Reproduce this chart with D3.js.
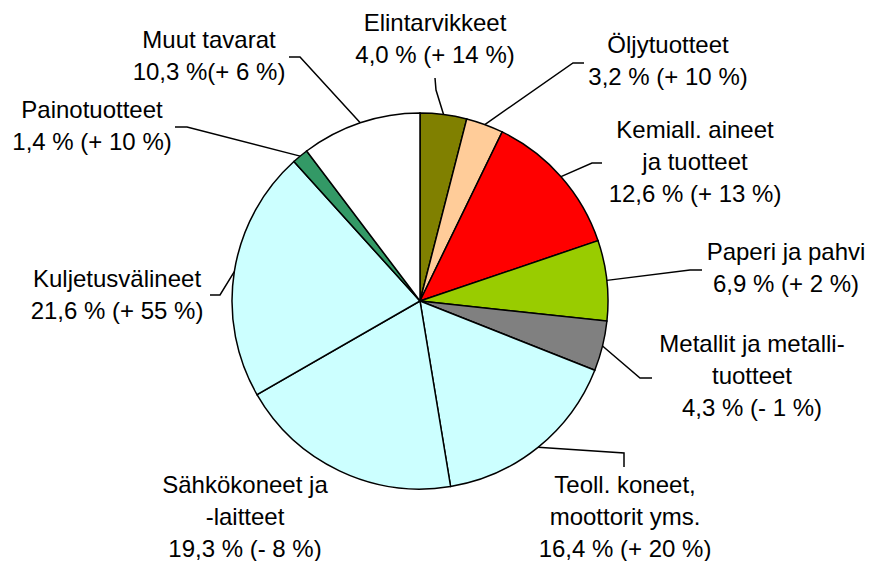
<!DOCTYPE html>
<html>
<head>
<meta charset="utf-8">
<script src="https://cdn.jsdelivr.net/npm/d3@7"></script>
<style>
    body { margin: 0; background: #fff; }
    .label { font-family: "Liberation Sans", Arial, sans-serif; font-size: 24px; fill: #000; }
    .slice { stroke: #000; stroke-width: 1.5px; }
    .leader { fill: none; stroke: #000; stroke-width: 1.5px; }
</style>
</head>
<body>
<script>
(function(){
    //chart data
    var categories = ["Elintarvikkeet", "Öljytuotteet", "Kemiall. aineet\nja tuotteet", "Paperi ja pahvi",
        "Metallit ja metalli-\ntuotteet", "Teoll. koneet,\nmoottorit yms.", "Sähkökoneet ja\n-laitteet",
        "Kuljetusvälineet", "Painotuotteet", "Muut tavarat"];
    var shares = [4.0, 3.2, 12.6, 6.9, 4.3, 16.4, 19.3, 21.6, 1.4, 10.3]; //share of exports, %
    var changes = [14, 10, 13, 2, -1, 20, -8, 55, 10, 6]; //change, %
    var colors = ["#808000", "#ffcc99", "#ff0000", "#99cc00", "#808080",
        "#ccffff", "#ccffff", "#ccffff", "#339966", "#ffffff"];

    //label layout: centre x, first baseline y
    var labelPos = [[435, 31], [668, 53], [695, 138], [786, 260], [752, 352],
        [625, 493], [245, 493], [117, 287], [92, 118], [209, 48]];
    //leader lines: knee point then end point (null = no line)
    var leaders = [[436, 90, 435, 78], [573, 63, 584, 63], [592, 163, 602, 163], [690, 270, 702, 270],
        [640, 378, 652, 378], [624, 453, 624, 467], null, [220, 295, 210, 295],
        [187, 127, 175, 127], [300, 57, 289, 57]];

    var width = 869,
        height = 561,
        cx = 420,
        cy = 301,
        radius = 188,
        lineHeight = 32;

    var svg = d3.select("body")
        .append("svg")
        .attr("width", width)
        .attr("height", height);

    var data = shares.map(function(s, i){
        return {name: categories[i], share: s, change: changes[i], color: colors[i], i: i};
    });

    //pie layout keeps the original order, starting at 12 o'clock clockwise
    var pie = d3.pie()
        .sort(null)
        .value(function(d){ return d.share; });

    var arc = d3.arc()
        .innerRadius(0)
        .outerRadius(radius);

    var arcs = pie(data);

    var g = svg.append("g")
        .attr("transform", "translate(" + cx + "," + cy + ")");

    g.selectAll(".slice")
        .data(arcs)
        .enter()
        .append("path")
        .attr("class", "slice")
        .attr("d", arc)
        .style("fill", function(d){ return d.data.color; });

    //leader lines from slice edge to label
    svg.selectAll(".leader")
        .data(arcs.filter(function(d){ return leaders[d.data.i]; }))
        .enter()
        .append("path")
        .attr("class", "leader")
        .attr("d", function(d){
            var mid = (d.startAngle + d.endAngle) / 2,
                x0 = cx + radius * Math.sin(mid),
                y0 = cy - radius * Math.cos(mid),
                l = leaders[d.data.i];
            return "M" + x0 + "," + y0 + "L" + l[0] + "," + l[1] + "L" + l[2] + "," + l[3];
        });

    //format value text like "12,6 % (+ 13 %)"
    function valueText(d){
        var sign = d.change < 0 ? "- " : "+ ";
        var gap = d.i === 9 ? "" : " ";
        return d.share.toFixed(1).replace(".", ",") + " %" + gap + "(" + sign + Math.abs(d.change) + " %)";
    }

    var labels = svg.selectAll(".label")
        .data(data)
        .enter()
        .append("text")
        .attr("class", "label")
        .attr("text-anchor", "middle")
        .attr("transform", function(d){
            return "translate(" + labelPos[d.i][0] + "," + labelPos[d.i][1] + ")";
        });

    labels.each(function(d){
        var lines = d.name.split("\n").concat([valueText(d)]);
        var t = d3.select(this);
        lines.forEach(function(line, k){
            t.append("tspan")
                .attr("x", 0)
                .attr("y", k * lineHeight)
                .text(line);
        });
    });
})();
</script>
</body>
</html>
